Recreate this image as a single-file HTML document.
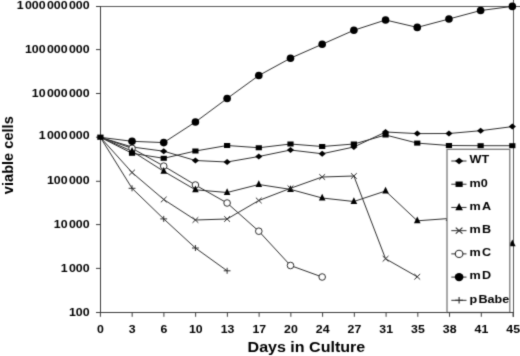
<!DOCTYPE html>
<html><head><meta charset="utf-8"><style>
html,body{margin:0;padding:0;background:#fff;}
svg{display:block;filter:grayscale(1);}
.t{font-family:"Liberation Sans",sans-serif;font-weight:bold;font-size:11px;fill:#000;}
.T{font-family:"Liberation Sans",sans-serif;font-weight:bold;font-size:14.6px;fill:#000;}
</style></head><body>
<svg width="520" height="356" viewBox="0 0 520 356">
<defs><filter id="sf" x="0" y="0" width="520" height="356" filterUnits="userSpaceOnUse" color-interpolation-filters="sRGB"><feConvolveMatrix order="3" kernelMatrix="0.0192 0.1001 0.0192 0.1001 0.5228 0.1001 0.0192 0.1001 0.0192" edgeMode="duplicate"/></filter></defs>
<g filter="url(#sf)">
<rect width="520" height="356" fill="#fff"/>
<path d="M96,6.5H520M513.5,0V317" stroke="#575757" stroke-width="1" fill="none"/>
<path d="M100.5,6V313M96,6.50H100.5M96,49.60H100.5M96,93.50H100.5M96,137.20H100.5M96,181.30H100.5M96,224.60H100.5M96,268.40H100.5M96,312.50H100.5" stroke="#3c3c3c" stroke-width="1" fill="none"/>
<path d="M100,312.5H513.5M100.42,312.5V316.8M132.16,312.5V316.8M163.90,312.5V316.8M195.64,312.5V316.8M227.38,312.5V316.8M259.12,312.5V316.8M290.86,312.5V316.8M322.60,312.5V316.8M354.34,312.5V316.8M386.08,312.5V316.8M417.82,312.5V316.8M449.56,312.5V316.8M481.30,312.5V316.8M513.04,312.5V316.8" stroke="#3c3c3c" stroke-width="1" fill="none"/>
<polyline points="100.35,137.30 132.04,147.00 163.73,151.20 195.42,160.50 227.11,162.00 258.80,156.50 290.49,150.00 322.18,153.75 353.87,147.00 385.56,132.00 417.25,133.60 448.94,133.50 480.63,130.70 512.32,126.60" fill="none" stroke="#2e2e2e" stroke-width="1"/>
<polyline points="100.35,137.30 132.04,153.30 163.73,158.30 195.42,151.00 227.11,145.50 258.80,147.75 290.49,144.00 322.18,146.50 353.87,144.00 385.56,135.00 417.25,143.10 448.94,145.50 480.63,145.70 512.32,145.70" fill="none" stroke="#2e2e2e" stroke-width="1"/>
<polyline points="100.35,137.30 132.04,151.20 163.73,171.30 195.42,189.80 227.11,192.50 258.80,184.50 290.49,189.40 322.18,198.00 353.87,201.50 385.56,191.00 417.25,220.80 448.94,218.50 480.63,232.00 512.32,243.80" fill="none" stroke="#2e2e2e" stroke-width="1"/>
<polyline points="100.35,137.30 132.04,172.50 163.73,199.50 195.42,220.00 227.11,219.00 258.80,200.50 290.49,188.30 322.18,177.00 353.87,176.00 385.56,258.75 417.25,276.75" fill="none" stroke="#2e2e2e" stroke-width="1"/>
<polyline points="100.35,137.30 132.04,148.30 163.73,166.10 195.42,185.00 227.11,203.00 258.80,231.20 290.49,265.50 322.18,277.00" fill="none" stroke="#2e2e2e" stroke-width="1"/>
<polyline points="100.35,137.30 132.04,141.30 163.73,142.60 195.42,122.00 227.11,98.50 258.80,75.50 290.49,58.20 322.18,44.25 353.87,30.25 385.56,20.00 417.25,27.40 448.94,19.00 480.63,10.50 512.32,6.40" fill="none" stroke="#2e2e2e" stroke-width="1"/>
<polyline points="100.35,137.30 132.04,188.30 163.73,218.90 195.42,248.00 227.11,270.80" fill="none" stroke="#2e2e2e" stroke-width="1"/>
<path d="M128.44,147.00L132.04,144.00L135.64,147.00L132.04,150.00Z" fill="#000"/>
<path d="M160.13,151.20L163.73,148.20L167.33,151.20L163.73,154.20Z" fill="#000"/>
<path d="M191.82,160.50L195.42,157.50L199.02,160.50L195.42,163.50Z" fill="#000"/>
<path d="M223.51,162.00L227.11,159.00L230.71,162.00L227.11,165.00Z" fill="#000"/>
<path d="M255.20,156.50L258.80,153.50L262.40,156.50L258.80,159.50Z" fill="#000"/>
<path d="M286.89,150.00L290.49,147.00L294.09,150.00L290.49,153.00Z" fill="#000"/>
<path d="M318.58,153.75L322.18,150.75L325.78,153.75L322.18,156.75Z" fill="#000"/>
<path d="M350.27,147.00L353.87,144.00L357.47,147.00L353.87,150.00Z" fill="#000"/>
<path d="M381.96,132.00L385.56,129.00L389.16,132.00L385.56,135.00Z" fill="#000"/>
<path d="M413.65,133.60L417.25,130.60L420.85,133.60L417.25,136.60Z" fill="#000"/>
<path d="M445.34,133.50L448.94,130.50L452.54,133.50L448.94,136.50Z" fill="#000"/>
<path d="M477.03,130.70L480.63,127.70L484.23,130.70L480.63,133.70Z" fill="#000"/>
<path d="M508.72,126.60L512.32,123.60L515.92,126.60L512.32,129.60Z" fill="#000"/>
<circle cx="132.04" cy="148.30" r="3.3" fill="#fff" stroke="#2e2e2e" stroke-width="1"/>
<circle cx="163.73" cy="166.10" r="3.3" fill="#fff" stroke="#2e2e2e" stroke-width="1"/>
<circle cx="195.42" cy="185.00" r="3.3" fill="#fff" stroke="#2e2e2e" stroke-width="1"/>
<circle cx="227.11" cy="203.00" r="3.3" fill="#fff" stroke="#2e2e2e" stroke-width="1"/>
<circle cx="258.80" cy="231.20" r="3.3" fill="#fff" stroke="#2e2e2e" stroke-width="1"/>
<circle cx="290.49" cy="265.50" r="3.3" fill="#fff" stroke="#2e2e2e" stroke-width="1"/>
<circle cx="322.18" cy="277.00" r="3.3" fill="#fff" stroke="#2e2e2e" stroke-width="1"/>
<rect x="128.94" y="150.80" width="6.2" height="5" fill="#000"/>
<rect x="160.63" y="155.80" width="6.2" height="5" fill="#000"/>
<rect x="192.32" y="148.50" width="6.2" height="5" fill="#000"/>
<rect x="224.01" y="143.00" width="6.2" height="5" fill="#000"/>
<rect x="255.70" y="145.25" width="6.2" height="5" fill="#000"/>
<rect x="287.39" y="141.50" width="6.2" height="5" fill="#000"/>
<rect x="319.08" y="144.00" width="6.2" height="5" fill="#000"/>
<rect x="350.77" y="141.50" width="6.2" height="5" fill="#000"/>
<rect x="382.46" y="132.50" width="6.2" height="5" fill="#000"/>
<rect x="414.15" y="140.60" width="6.2" height="5" fill="#000"/>
<rect x="445.84" y="143.00" width="6.2" height="5" fill="#000"/>
<rect x="477.53" y="143.20" width="6.2" height="5" fill="#000"/>
<rect x="509.22" y="143.20" width="6.2" height="5" fill="#000"/>
<path d="M128.74,153.70L132.04,147.00L135.34,153.70Z" fill="#000"/>
<path d="M160.43,173.80L163.73,167.10L167.03,173.80Z" fill="#000"/>
<path d="M192.12,192.30L195.42,185.60L198.72,192.30Z" fill="#000"/>
<path d="M223.81,195.00L227.11,188.30L230.41,195.00Z" fill="#000"/>
<path d="M255.50,187.00L258.80,180.30L262.10,187.00Z" fill="#000"/>
<path d="M287.19,191.90L290.49,185.20L293.79,191.90Z" fill="#000"/>
<path d="M318.88,200.50L322.18,193.80L325.48,200.50Z" fill="#000"/>
<path d="M350.57,204.00L353.87,197.30L357.17,204.00Z" fill="#000"/>
<path d="M382.26,193.50L385.56,186.80L388.86,193.50Z" fill="#000"/>
<path d="M413.95,223.30L417.25,216.60L420.55,223.30Z" fill="#000"/>
<path d="M445.64,221.00L448.94,214.30L452.24,221.00Z" fill="#000"/>
<path d="M477.33,234.50L480.63,227.80L483.93,234.50Z" fill="#000"/>
<path d="M509.02,246.30L512.32,239.60L515.62,246.30Z" fill="#000"/>
<path d="M129.14,169.70L134.94,175.30M129.14,175.30L134.94,169.70" stroke="#2e2e2e" stroke-width="1" fill="none"/>
<path d="M160.83,196.70L166.63,202.30M160.83,202.30L166.63,196.70" stroke="#2e2e2e" stroke-width="1" fill="none"/>
<path d="M192.52,217.20L198.32,222.80M192.52,222.80L198.32,217.20" stroke="#2e2e2e" stroke-width="1" fill="none"/>
<path d="M224.21,216.20L230.01,221.80M224.21,221.80L230.01,216.20" stroke="#2e2e2e" stroke-width="1" fill="none"/>
<path d="M255.90,197.70L261.70,203.30M255.90,203.30L261.70,197.70" stroke="#2e2e2e" stroke-width="1" fill="none"/>
<path d="M287.59,185.50L293.39,191.10M287.59,191.10L293.39,185.50" stroke="#2e2e2e" stroke-width="1" fill="none"/>
<path d="M319.28,174.20L325.08,179.80M319.28,179.80L325.08,174.20" stroke="#2e2e2e" stroke-width="1" fill="none"/>
<path d="M350.97,173.20L356.77,178.80M350.97,178.80L356.77,173.20" stroke="#2e2e2e" stroke-width="1" fill="none"/>
<path d="M382.66,255.95L388.46,261.55M382.66,261.55L388.46,255.95" stroke="#2e2e2e" stroke-width="1" fill="none"/>
<path d="M414.35,273.95L420.15,279.55M414.35,279.55L420.15,273.95" stroke="#2e2e2e" stroke-width="1" fill="none"/>
<circle cx="132.04" cy="141.30" r="3.8" fill="#000"/>
<circle cx="163.73" cy="142.60" r="3.8" fill="#000"/>
<circle cx="195.42" cy="122.00" r="3.8" fill="#000"/>
<circle cx="227.11" cy="98.50" r="3.8" fill="#000"/>
<circle cx="258.80" cy="75.50" r="3.8" fill="#000"/>
<circle cx="290.49" cy="58.20" r="3.8" fill="#000"/>
<circle cx="322.18" cy="44.25" r="3.8" fill="#000"/>
<circle cx="353.87" cy="30.25" r="3.8" fill="#000"/>
<circle cx="385.56" cy="20.00" r="3.8" fill="#000"/>
<circle cx="417.25" cy="27.40" r="3.8" fill="#000"/>
<circle cx="448.94" cy="19.00" r="3.8" fill="#000"/>
<circle cx="480.63" cy="10.50" r="3.8" fill="#000"/>
<circle cx="512.32" cy="6.40" r="3.8" fill="#000"/>
<path d="M128.64,188.30L135.44,188.30M132.04,185.30L132.04,191.30" stroke="#2e2e2e" stroke-width="1" fill="none"/>
<path d="M160.33,218.90L167.13,218.90M163.73,215.90L163.73,221.90" stroke="#2e2e2e" stroke-width="1" fill="none"/>
<path d="M192.02,248.00L198.82,248.00M195.42,245.00L195.42,251.00" stroke="#2e2e2e" stroke-width="1" fill="none"/>
<path d="M223.71,270.80L230.51,270.80M227.11,267.80L227.11,273.80" stroke="#2e2e2e" stroke-width="1" fill="none"/>
<rect x="97.25" y="134.6" width="6.3" height="5.2" fill="#000"/>
<rect x="447" y="149.3" width="62.8" height="163.2" fill="#fff" stroke="#7a7a7a" stroke-width="1.3"/>
<path d="M446.5,312.5H513.5" stroke="#3c3c3c" stroke-width="1"/>
<path d="M451.3,161.00H466.5" stroke="#2e2e2e" stroke-width="1"/>
<g transform="translate(459.1,161.00) scale(1.15,1.08)"><path d="M-3.60,0.00L0.00,-3.00L3.60,0.00L0.00,3.00Z" fill="#000"/></g>
<text transform="translate(469.6,163.30) scale(1.2,1)" class="t" style="font-size:10.5px">WT</text>
<path d="M451.3,184.22H466.5" stroke="#2e2e2e" stroke-width="1"/>
<g transform="translate(459.1,184.22) scale(1.15,1.08)"><rect x="-3.10" y="-2.50" width="6.2" height="5" fill="#000"/></g>
<text transform="translate(469.6,186.52) scale(1.2,1)" class="t" style="font-size:10.5px">m0</text>
<path d="M451.3,207.44H466.5" stroke="#2e2e2e" stroke-width="1"/>
<g transform="translate(459.1,207.44) scale(1.15,1.08)"><path d="M-3.30,2.50L0.00,-4.20L3.30,2.50Z" fill="#000"/></g>
<text transform="translate(469.6,209.74) scale(1.2,1)" class="t" style="font-size:10.5px">m<tspan dx="0.95">A</tspan></text>
<path d="M451.3,230.66H466.5" stroke="#2e2e2e" stroke-width="1"/>
<g transform="translate(459.1,230.66) scale(1.15,1.08)"><path d="M-2.90,-2.80L2.90,2.80M-2.90,2.80L2.90,-2.80" stroke="#2e2e2e" stroke-width="1" fill="none"/></g>
<text transform="translate(469.6,232.96) scale(1.2,1)" class="t" style="font-size:10.5px">m<tspan dx="0.95">B</tspan></text>
<path d="M451.3,253.88H466.5" stroke="#2e2e2e" stroke-width="1"/>
<g transform="translate(459.1,253.88) scale(1.15,1.08)"><circle cx="0.00" cy="0.00" r="3.3" fill="#fff" stroke="#2e2e2e" stroke-width="1"/></g>
<text transform="translate(469.6,256.18) scale(1.2,1)" class="t" style="font-size:10.5px">m<tspan dx="0.95">C</tspan></text>
<path d="M451.3,277.10H466.5" stroke="#2e2e2e" stroke-width="1"/>
<g transform="translate(459.1,277.10) scale(1.15,1.08)"><circle cx="0.00" cy="0.00" r="3.8" fill="#000"/></g>
<text transform="translate(469.6,279.40) scale(1.2,1)" class="t" style="font-size:10.5px">m<tspan dx="0.95">D</tspan></text>
<path d="M451.3,300.32H466.5" stroke="#2e2e2e" stroke-width="1"/>
<g transform="translate(459.1,300.32) scale(1.15,1.08)"><path d="M-3.40,0.00L3.40,0.00M0.00,-3.00L0.00,3.00" stroke="#2e2e2e" stroke-width="1" fill="none"/></g>
<text transform="translate(469.6,302.62) scale(1.2,1)" class="t" style="font-size:10.5px">p<tspan dx="0.95">Babe</tspan></text>
<text transform="translate(89.6,8.65) scale(1.124,1)" class="t" text-anchor="end"><tspan>1</tspan><tspan dx="1.25">000</tspan><tspan dx="1.25">000</tspan><tspan dx="1.25">000</tspan></text>
<text transform="translate(89.6,52.70) scale(1.124,1)" class="t" text-anchor="end"><tspan>100</tspan><tspan dx="1.25">000</tspan><tspan dx="1.25">000</tspan></text>
<text transform="translate(89.6,97.00) scale(1.124,1)" class="t" text-anchor="end"><tspan>10</tspan><tspan dx="1.25">000</tspan><tspan dx="1.25">000</tspan></text>
<text transform="translate(89.6,139.30) scale(1.124,1)" class="t" text-anchor="end"><tspan>1</tspan><tspan dx="1.25">000</tspan><tspan dx="1.25">000</tspan></text>
<text transform="translate(89.6,183.50) scale(1.124,1)" class="t" text-anchor="end"><tspan>100</tspan><tspan dx="1.25">000</tspan></text>
<text transform="translate(89.6,227.50) scale(1.124,1)" class="t" text-anchor="end"><tspan>10</tspan><tspan dx="1.25">000</tspan></text>
<text transform="translate(89.6,271.60) scale(1.124,1)" class="t" text-anchor="end"><tspan>1</tspan><tspan dx="1.25">000</tspan></text>
<text transform="translate(89.6,315.80) scale(1.124,1)" class="t" text-anchor="end"><tspan>100</tspan></text>
<text transform="translate(100.52,332.5) scale(1.12,1)" class="t" text-anchor="middle">0</text>
<text transform="translate(132.26,332.5) scale(1.12,1)" class="t" text-anchor="middle">3</text>
<text transform="translate(164.00,332.5) scale(1.12,1)" class="t" text-anchor="middle">6</text>
<text transform="translate(195.74,332.5) scale(1.12,1)" class="t" text-anchor="middle">10</text>
<text transform="translate(227.48,332.5) scale(1.12,1)" class="t" text-anchor="middle">13</text>
<text transform="translate(259.22,332.5) scale(1.12,1)" class="t" text-anchor="middle">17</text>
<text transform="translate(290.96,332.5) scale(1.12,1)" class="t" text-anchor="middle">20</text>
<text transform="translate(322.70,332.5) scale(1.12,1)" class="t" text-anchor="middle">24</text>
<text transform="translate(354.44,332.5) scale(1.12,1)" class="t" text-anchor="middle">27</text>
<text transform="translate(386.18,332.5) scale(1.12,1)" class="t" text-anchor="middle">31</text>
<text transform="translate(417.92,332.5) scale(1.12,1)" class="t" text-anchor="middle">35</text>
<text transform="translate(449.66,332.5) scale(1.12,1)" class="t" text-anchor="middle">38</text>
<text transform="translate(481.40,332.5) scale(1.12,1)" class="t" text-anchor="middle">41</text>
<text transform="translate(513.14,332.5) scale(1.12,1)" class="t" text-anchor="middle">45</text>
<text transform="translate(306.4,351.7) scale(1.1,1)" class="T" text-anchor="middle">Days in Culture</text>
<text transform="translate(13,155.2) rotate(-90)" class="T" text-anchor="middle">viable cells</text>
</g>
</svg>
</body></html>
